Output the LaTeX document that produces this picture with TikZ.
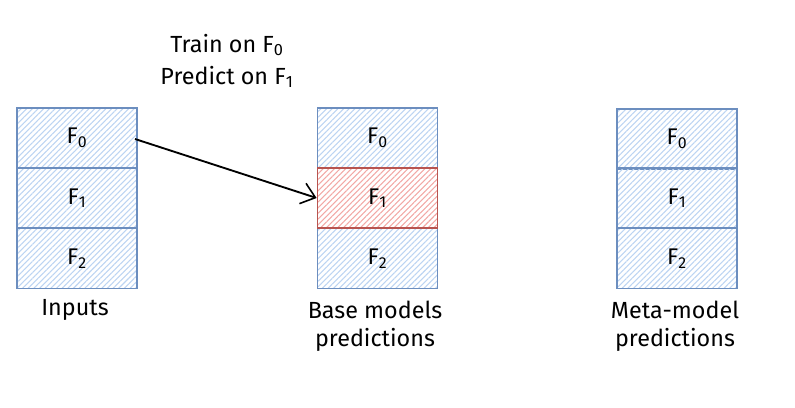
\documentclass[tikz,border=0pt]{standalone}
\usepackage{fontspec}
\setmainfont{Fira Sans}
\usetikzlibrary{patterns.meta,arrows.meta}
\definecolor{bstroke}{HTML}{6C8EBF}
\definecolor{bfill}{HTML}{BCD4F2}
\definecolor{rstroke}{HTML}{B85450}
\definecolor{rfill}{HTML}{F2A8A5}
\tikzset{
  cell/.style={draw=bstroke, line width=1.3pt, minimum width=90pt, minimum height=45pt,
    inner sep=0pt, font=\fontsize{17}{20}\selectfont,
    preaction={pattern={Lines[angle=45,distance=3pt,line width=0.8pt]}, pattern color=bfill}},
  redcell/.style={draw=rstroke, line width=1.3pt, minimum width=90pt, minimum height=45pt,
    inner sep=0pt, font=\fontsize{17}{20}\selectfont,
    preaction={pattern={Lines[angle=45,distance=3pt,line width=0.8pt]}, pattern color=rfill}},
  lbl/.style={font=\fontsize{17.5}{20}\selectfont, inner sep=0pt},
}
\begin{document}
\begin{tikzpicture}[x=0.75pt,y=-0.75pt]
\useasboundingbox (0,0) rectangle (795,407);
% Inputs column
\node[cell] (i0) at (77,138) {F\textsubscript{0}};
\node[cell] (i1) at (77,198) {F\textsubscript{1}};
\node[cell] (i2) at (77,258.5) {F\textsubscript{2}};
% Base column
\node[cell] (b0) at (377.5,138) {F\textsubscript{0}};
\node[cell] (b2) at (377.5,258.5) {F\textsubscript{2}};
\node[redcell] (b1) at (377.5,198) {F\textsubscript{1}};
% Meta column
\node[cell] (m0) at (677,139) {F\textsubscript{0}};
\node[cell] (m1) at (677,198) {F\textsubscript{1}};
\node[cell] (m2) at (677,258.5) {F\textsubscript{2}};
% labels
\node[lbl] (tl1) at (227,45) {Train on F\textsubscript{0}};
\node[lbl] (tl2) at (227,77) {Predict on F\textsubscript{1}};
\node[lbl] (li) at (75,310) {Inputs};
\node[lbl] (lb1) at (375,310) {Base models};
\node[lbl] (lb2) at (375,340) {predictions};
\node[lbl] (lm1) at (675,310) {Meta-model};
\node[lbl] (lm2) at (675,340) {predictions};
% arrow
\coordinate (as) at (135,139);
\draw[line width=1.4pt, -{Straight Barb[length=10pt,width=16pt,line width=1.2pt]}] (as) -- (b1.west);
\end{tikzpicture}
\end{document}
